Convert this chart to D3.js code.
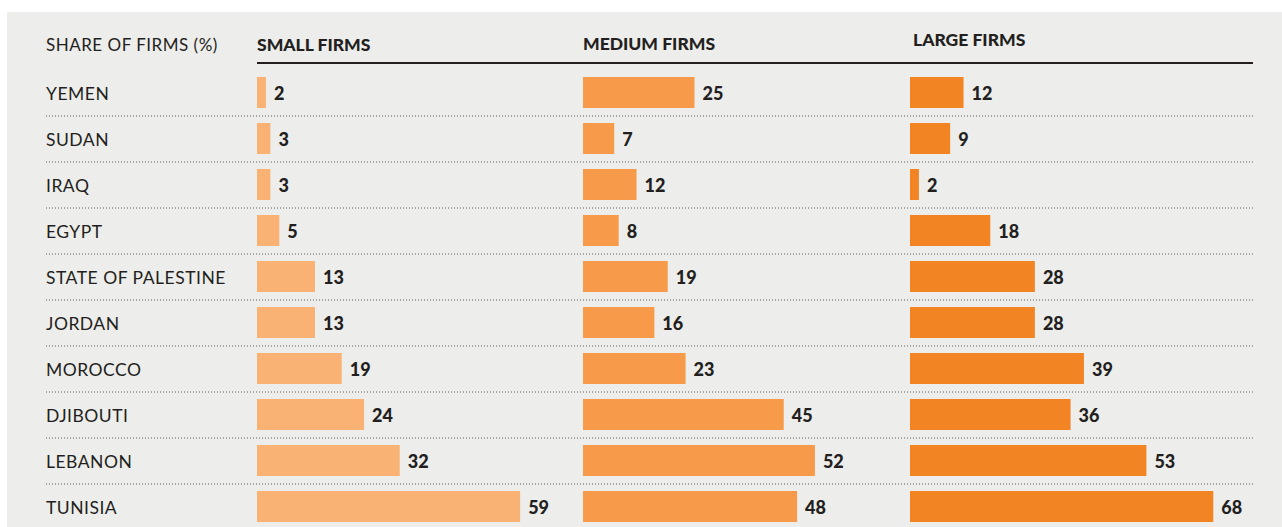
<!DOCTYPE html>
<html>
<head>
<meta charset="utf-8">
<script src="https://cdn.jsdelivr.net/npm/d3@7"></script>
<style>
  html, body { margin: 0; padding: 0; background: #ffffff; }
  svg { display: block; }
  text { font-family: Lato, "Noto Sans", sans-serif; fill: #231f20; }
</style>
</head>
<body>
<svg id="chart" width="1282" height="527"></svg>
<script>
const countries = ["YEMEN", "SUDAN", "IRAQ", "EGYPT", "STATE OF PALESTINE", "JORDAN", "MOROCCO", "DJIBOUTI", "LEBANON", "TUNISIA"];
const seriesNames = ["SMALL FIRMS", "MEDIUM FIRMS", "LARGE FIRMS"];
const smallFirms = [2, 3, 3, 5, 13, 13, 19, 24, 32, 59];
const mediumFirms = [25, 7, 12, 8, 19, 16, 23, 45, 52, 48];
const largeFirms = [12, 9, 2, 18, 28, 28, 39, 36, 53, 68];
const axisTitle = "SHARE OF FIRMS (%)";

const series = [smallFirms, mediumFirms, largeFirms];
const colors = ["#f9b273", "#f79b4a", "#f38423"];
const starts = [257, 583, 910];
const headerX = [257, 583, 913];
const headerY = [51, 50, 46];

const svg = d3.select("#chart");
svg.append("rect").attr("x", 7).attr("y", 12).attr("width", 1275).attr("height", 515).attr("fill", "#ededeb");

const y = d3.scaleBand().domain(countries).range([69.5, 69.5 + 46 * countries.length]).paddingInner(0).paddingOuter(0);
const barH = 31;

const xs = starts.map(s => d3.scaleLinear().domain([0, 100]).range([s, s + 446]));

// header
svg.append("text").attr("x", 46).attr("y", 51).attr("font-size", 17).attr("font-weight", 400)
  .attr("letter-spacing", 0.5).attr("fill", "#2a2a2a").text(axisTitle);
seriesNames.forEach((n, i) => {
  svg.append("text").attr("x", headerX[i]).attr("y", headerY[i]).attr("font-size", 17.5).attr("font-weight", 900).text(n);
});
svg.append("line").attr("x1", 257).attr("x2", 1253).attr("y1", 63).attr("y2", 63).attr("stroke", "#231f20").attr("stroke-width", 2.2);

// separators
countries.slice(0, -1).forEach(c => {
  const yy = y(c) + y.bandwidth() + 0.5;
  svg.append("line").attr("x1", 46).attr("x2", 1253).attr("y1", yy).attr("y2", yy)
    .attr("stroke", "#5f5f5f").attr("stroke-width", 1).attr("stroke-dasharray", "1,2");
});

// country labels
svg.selectAll("text.country").data(countries).join("text").attr("class", "country")
  .attr("x", 46).attr("y", d => y(d) + y.bandwidth() / 2 + 7).attr("font-size", 17.5).attr("font-weight", 400)
  .attr("letter-spacing", 0.5).attr("fill", "#2a2a2a").text(d => d);

series.forEach((vals, si) => {
  const g = svg.append("g");
  const x = xs[si];
  g.selectAll("rect").data(vals).join("rect")
    .attr("x", x(0)).attr("y", (d, i) => y(countries[i]) + y.bandwidth() / 2 - barH / 2)
    .attr("width", d => x(d) - x(0)).attr("height", barH).attr("fill", colors[si]);
  g.selectAll("text").data(vals).join("text")
    .attr("x", d => x(d) + 8).attr("y", (d, i) => y(countries[i]) + y.bandwidth() / 2 + 7)
    .attr("font-size", 18).attr("font-weight", 900).text(d => d);
});
</script>
</body>
</html>
